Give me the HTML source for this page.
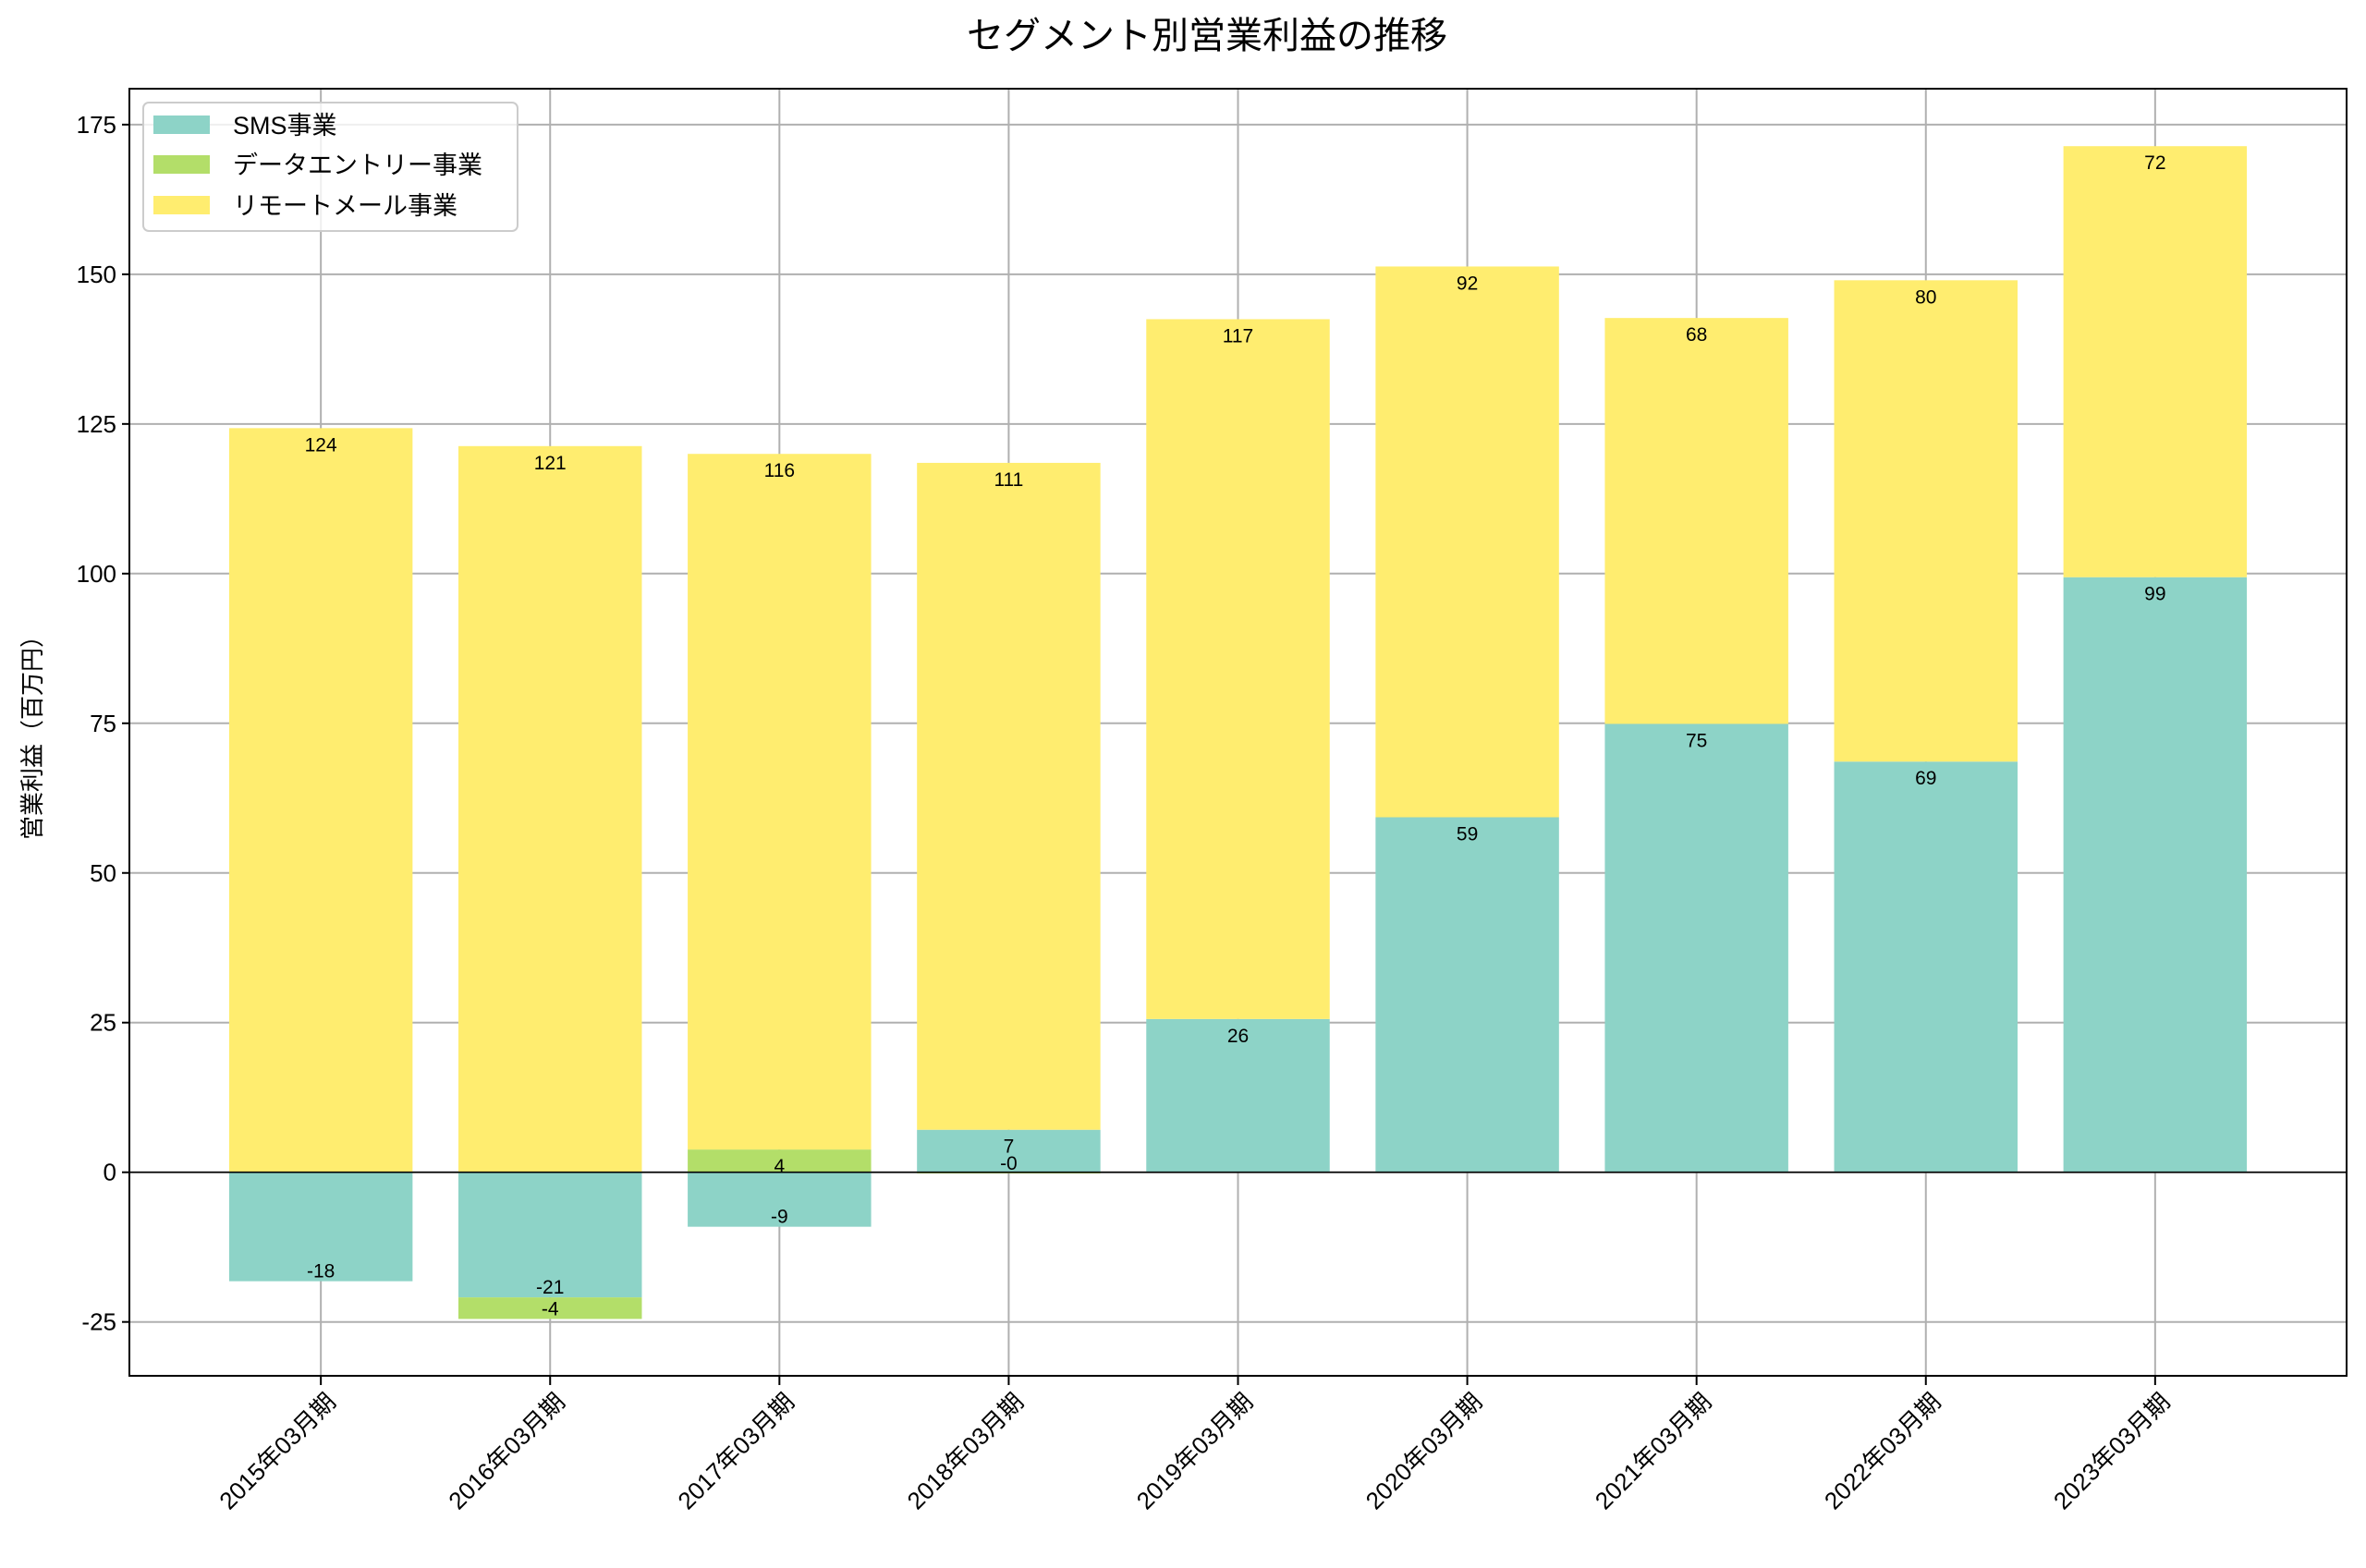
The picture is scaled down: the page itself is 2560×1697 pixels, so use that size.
<!DOCTYPE html>
<html><head><meta charset="utf-8"><style>
html,body{margin:0;padding:0;background:#fff;}
svg{display:block;font-family:"Liberation Sans","Noto Sans CJK JP",sans-serif;}
</style></head><body>
<svg id="chart" width="2560" height="1697" viewBox="0 0 2560 1697" xmlns="http://www.w3.org/2000/svg">
<rect width="2560" height="1697" fill="#fff"/>
<text x="1306" y="52" font-size="40" text-anchor="middle">セグメント別営業利益の推移</text>
<g id="grid"></g>
<g id="bars"></g>
<g id="labels"></g>
<g id="axes"></g>
<text transform="translate(44,792) rotate(-90)" font-size="26" text-anchor="middle">営業利益（百万円）</text>
<g>
<rect x="155" y="111" width="405" height="139" rx="6" fill="#fff" fill-opacity="0.8" stroke="#ccc" stroke-width="2"/>
<rect x="166" y="125" width="61" height="20" fill="#8dd3c7"/>
<text x="252" y="145" font-size="27">SMS事業</text>
<rect x="166" y="168" width="61" height="20" fill="#b3de69"/>
<text x="252" y="188" font-size="27">データエントリー事業</text>
<rect x="166" y="212" width="61" height="20" fill="#ffed6f"/>
<text x="252" y="232" font-size="27">リモートメール事業</text>
</g>
</svg>
<script>
const categories = ["2015年03月期","2016年03月期","2017年03月期","2018年03月期","2019年03月期","2020年03月期","2021年03月期","2022年03月期","2023年03月期"];
const smsValues = [-18.2, -20.9, -9.1, 7.1, 25.6, 59.3, 74.9, 68.6, 99.4];
const dataEntryValues = [null, -3.6, 3.8, -0.2, null, null, null, null, null];
const remoteMailValues = [124.3, 121.3, 116.2, 111.4, 116.9, 92.0, 67.8, 80.4, 72.0];
const yTicks = [-25, 0, 25, 50, 75, 100, 125, 150, 175];

const L=140, R=2539, T=96, B=1489;
const xMin=-0.835, xMax=8.835, yMin=-34, yMax=181;
const NS="http://www.w3.org/2000/svg";
function xs(i){return L+(i-xMin)/(xMax-xMin)*(R-L);}
function ys(v){return B-(v-yMin)/(yMax-yMin)*(B-T);}
function mk(tag,attrs,parent,text){const e=document.createElementNS(NS,tag);for(const k in attrs)e.setAttribute(k,attrs[k]);if(text!==undefined)e.textContent=text;parent.appendChild(e);return e;}
const grid=document.getElementById('grid'),bars=document.getElementById('bars'),labels=document.getElementById('labels'),axes=document.getElementById('axes');
const bw=0.8*(xs(1)-xs(0));

yTicks.forEach(t=>{
  const g=mk('line',{x1:L,x2:R,y1:ys(t),y2:ys(t),stroke:'#b0b0b0','stroke-width':2},grid);
  
  
  const tk=mk('line',{x1:L-8,x2:L,y1:ys(t),y2:ys(t),stroke:'#000','stroke-width':2},axes);
  
  
  const tl=mk('text',{x:L-14,y:ys(t)+9,'font-size':26,'text-anchor':'end'},axes,String(t));
  
  
});
categories.forEach((c,i)=>{
  const g=mk('line',{x1:xs(i),x2:xs(i),y1:T,y2:B,stroke:'#b0b0b0','stroke-width':2},grid);
  
  
  const tk=mk('line',{x1:xs(i),x2:xs(i),y1:B,y2:B+10,stroke:'#000','stroke-width':2},axes);
  
  
  const tl=mk('text',{transform:`translate(${xs(i)+4},${B+16}) rotate(-45)`,'font-size':26,'text-anchor':'end','dominant-baseline':'hanging'},axes,c);
  
  
});

const series=[[smsValues,'#8dd3c7','sms'],[dataEntryValues,'#b3de69','data-entry'],[remoteMailValues,'#ffed6f','remote-mail']];
categories.forEach((c,i)=>{
  let pos=0,neg=0;
  series.forEach(([arr,col,nm])=>{
    const v=arr[i]; if(v===null||v===undefined) return;
    let b0,b1;
    if(v>=0){b0=pos;b1=pos+v;pos=b1;}else{b0=neg;b1=neg+v;neg=b1;}
    const y1=ys(Math.max(b0,b1)),y2=ys(Math.min(b0,b1));
    const r=mk('rect',{x:xs(i)-bw/2,y:y1,width:bw,height:Math.max(y2-y1,0.5),fill:col},bars);
    
    
    const ly = v>=0 ? ys(b1)+18 : ys(b1)-11;
    const t=mk('text',{x:xs(i),y:ly+7,'font-size':21,'text-anchor':'middle'},labels,v.toFixed(0));
    
    
  });
});
const z=mk('line',{x1:L,x2:R,y1:ys(0),y2:ys(0),stroke:'#000','stroke-width':1.6},axes);


const fr=mk('rect',{x:L,y:T,width:R-L,height:B-T,fill:'none',stroke:'#000','stroke-width':2},axes);


</script>
</body></html>
